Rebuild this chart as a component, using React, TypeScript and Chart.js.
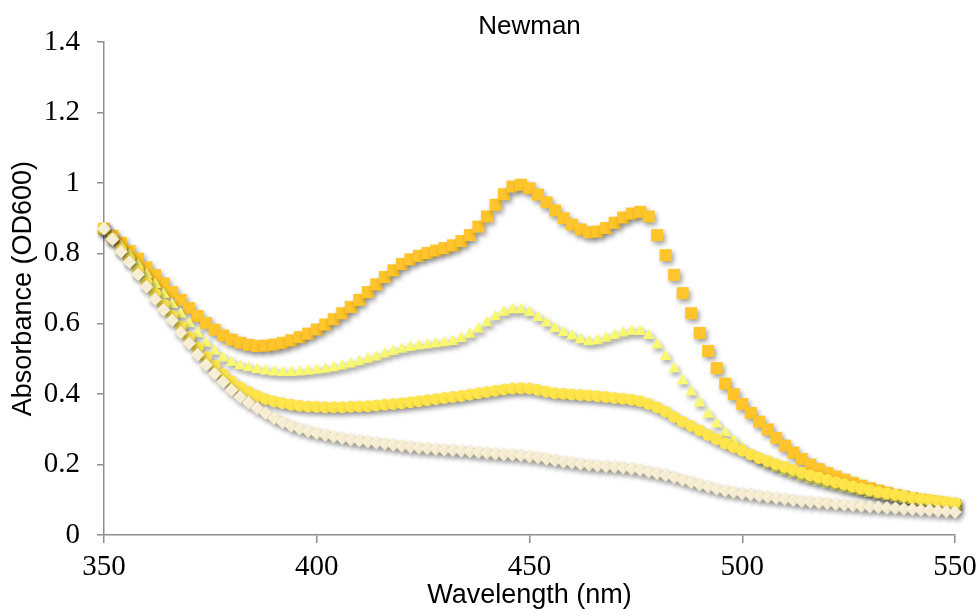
import React, { useEffect, useRef } from "react";
import { Chart, registerables } from "chart.js";

Chart.register(...registerables);

// Wavelength (nm), every 2 nm
const wavelengths = [
  350, 352, 354, 356, 358, 360, 362, 364, 366, 368,
  370, 372, 374, 376, 378, 380, 382, 384, 386, 388,
  390, 392, 394, 396, 398, 400, 402, 404, 406, 408,
  410, 412, 414, 416, 418, 420, 422, 424, 426, 428,
  430, 432, 434, 436, 438, 440, 442, 444, 446, 448,
  450, 452, 454, 456, 458, 460, 462, 464, 466, 468,
  470, 472, 474, 476, 478, 480, 482, 484, 486, 488,
  490, 492, 494, 496, 498, 500, 502, 504, 506, 508,
  510, 512, 514, 516, 518, 520, 522, 524, 526, 528,
  530, 532, 534, 536, 538, 540, 542, 544, 546, 548,
  550,
];

// Orange squares
const seriesSquares = [
  0.870, 0.850, 0.830, 0.807, 0.785, 0.760, 0.738, 0.715, 0.690, 0.668,
  0.645, 0.622, 0.602, 0.583, 0.567, 0.555, 0.546, 0.540, 0.537, 0.538,
  0.541, 0.546, 0.553, 0.562, 0.572, 0.584, 0.598, 0.613, 0.630, 0.648,
  0.668, 0.690, 0.712, 0.733, 0.752, 0.770, 0.783, 0.793, 0.801, 0.808,
  0.815, 0.823, 0.835, 0.852, 0.876, 0.905, 0.938, 0.968, 0.990, 0.995,
  0.985, 0.967, 0.945, 0.922, 0.900, 0.882, 0.868, 0.860, 0.862, 0.872,
  0.887, 0.902, 0.913, 0.918, 0.905, 0.852, 0.795, 0.739, 0.687, 0.630,
  0.574, 0.523, 0.474, 0.430, 0.400, 0.372, 0.347, 0.322, 0.300, 0.276,
  0.254, 0.234, 0.216, 0.200, 0.187, 0.176, 0.166, 0.157, 0.148, 0.140,
  0.133, 0.126, 0.120, 0.114, 0.109, 0.104, 0.100, 0.096, 0.092, 0.088,
  0.085,
];

// Light yellow triangles
const seriesTriangles = [
  0.870, 0.845, 0.820, 0.795, 0.768, 0.740, 0.712, 0.683, 0.655, 0.627,
  0.600, 0.572, 0.545, 0.522, 0.503, 0.490, 0.481, 0.475, 0.470, 0.466,
  0.463, 0.462, 0.462, 0.463, 0.465, 0.468, 0.471, 0.475, 0.480, 0.486,
  0.492, 0.499, 0.506, 0.514, 0.521, 0.528, 0.533, 0.537, 0.540, 0.543,
  0.546, 0.550, 0.558, 0.570, 0.585, 0.603, 0.620, 0.633, 0.640, 0.640,
  0.632, 0.618, 0.602, 0.587, 0.575, 0.565, 0.555, 0.549, 0.552, 0.559,
  0.567, 0.574, 0.579, 0.578, 0.567, 0.540, 0.507, 0.472, 0.438, 0.406,
  0.375, 0.343, 0.315, 0.290, 0.268, 0.248, 0.228, 0.213, 0.200, 0.190,
  0.181, 0.173, 0.165, 0.158, 0.151, 0.145, 0.139, 0.133, 0.128, 0.123,
  0.118, 0.113, 0.109, 0.105, 0.101, 0.098, 0.095, 0.092, 0.089, 0.086,
  0.084,
];

// Yellow circles
const seriesCircles = [
  0.870, 0.842, 0.812, 0.782, 0.750, 0.718, 0.686, 0.655, 0.623, 0.592,
  0.562, 0.532, 0.505, 0.480, 0.457, 0.437, 0.420, 0.406, 0.395, 0.386,
  0.379, 0.374, 0.370, 0.367, 0.365, 0.364, 0.363, 0.363, 0.363, 0.364,
  0.365, 0.366, 0.368, 0.370, 0.372, 0.374, 0.377, 0.380, 0.383, 0.386,
  0.389, 0.392, 0.395, 0.399, 0.403, 0.406, 0.410, 0.413, 0.416, 0.417,
  0.416, 0.412, 0.407, 0.403, 0.401, 0.399, 0.398, 0.396, 0.394, 0.392,
  0.389, 0.387, 0.384, 0.380, 0.372, 0.362, 0.350, 0.335, 0.322, 0.310,
  0.297, 0.284, 0.272, 0.260, 0.249, 0.239, 0.229, 0.219, 0.210, 0.201,
  0.193, 0.185, 0.177, 0.170, 0.163, 0.156, 0.150, 0.144, 0.138, 0.132,
  0.127, 0.122, 0.118, 0.114, 0.110, 0.106, 0.103, 0.100, 0.097, 0.094,
  0.091,
];

// Cream diamonds
const seriesDiamonds = [
  0.870, 0.840, 0.805, 0.775, 0.740, 0.705, 0.670, 0.640, 0.610, 0.575,
  0.545, 0.512, 0.483, 0.458, 0.435, 0.412, 0.392, 0.376, 0.360, 0.346,
  0.332, 0.320, 0.310, 0.302, 0.295, 0.289, 0.284, 0.279, 0.275, 0.271,
  0.268, 0.265, 0.262, 0.259, 0.256, 0.253, 0.250, 0.248, 0.246, 0.244,
  0.242, 0.241, 0.239, 0.237, 0.235, 0.233, 0.231, 0.229, 0.228, 0.226,
  0.223, 0.220, 0.216, 0.212, 0.208, 0.205, 0.202, 0.199, 0.197, 0.195,
  0.193, 0.191, 0.188, 0.185, 0.180, 0.175, 0.170, 0.164, 0.157, 0.150,
  0.143, 0.137, 0.131, 0.126, 0.122, 0.118, 0.115, 0.111, 0.108, 0.105,
  0.102, 0.099, 0.096, 0.094, 0.092, 0.090, 0.088, 0.086, 0.084, 0.082,
  0.080, 0.079, 0.077, 0.076, 0.074, 0.073, 0.071, 0.070, 0.068, 0.067,
  0.065,
];

const chartTitle = "Newman";
const xTitle = "Wavelength (nm)";
const yTitle = "Absorbance (OD600)";

const toPoints = (ys: number[]) => wavelengths.map((x, i) => ({ x, y: ys[i] }));

const shadowPlugin = {
  id: "markerShadow",
  beforeDatasetsDraw(chart: any) {
    const ctx = chart.ctx;
    ctx.save();
    ctx.shadowColor = "rgba(0,0,0,0.38)";
    ctx.shadowBlur = 5;
    ctx.shadowOffsetX = 2;
    ctx.shadowOffsetY = 3;
  },
  afterDatasetsDraw(chart: any) {
    chart.ctx.restore();
  },
};

const axisColor = "#8e8e8e";
const sans = "'Liberation Sans', Arial, sans-serif";
const serif = "'Liberation Serif', 'Times New Roman', serif";

export default function App() {
  const canvasRef = useRef<HTMLCanvasElement | null>(null);

  useEffect(() => {
    document.body.style.margin = "0";
    const canvas = canvasRef.current;
    if (!canvas) return;
    const chart = new Chart(canvas, {
      type: "scatter",
      data: {
        datasets: [
          {
            label: "D",
            data: toPoints(seriesDiamonds),
            pointStyle: "rectRot",
            pointRadius: 6.5,
            backgroundColor: "#FFF6DC",
            borderColor: "#F2E6BE",
            borderWidth: 0.8,
            showLine: false,
            clip: false,
          },
          {
            label: "C",
            data: toPoints(seriesCircles),
            pointStyle: "circle",
            pointRadius: 6,
            backgroundColor: "#FFE54A",
            borderColor: "#FFE54A",
            borderWidth: 0,
            showLine: false,
            clip: false,
          },
          {
            label: "B",
            data: toPoints(seriesTriangles),
            pointStyle: "triangle",
            pointRadius: 7,
            backgroundColor: "#F9F872",
            borderColor: "#F9F872",
            borderWidth: 0,
            showLine: false,
            clip: false,
          },
          {
            label: "A",
            data: toPoints(seriesSquares),
            pointStyle: "rect",
            pointRadius: 8.5,
            backgroundColor: "#FFC52A",
            borderColor: "#FFC52A",
            borderWidth: 0,
            showLine: false,
            clip: false,
          },
        ],
      },
      options: {
        responsive: false,
        animation: false,
        events: [],
        layout: { padding: { left: 0, right: 23, top: 0, bottom: 0 } },
        plugins: {
          legend: { display: false },
          tooltip: { enabled: false },
          title: {
            display: true,
            text: chartTitle,
            fullSize: false,
            color: "#000",
            font: { family: sans, size: 26, weight: "normal" },
            padding: { top: 11, bottom: 0 },
          },
        },
        scales: {
          x: {
            type: "linear",
            min: 350,
            max: 550,
            afterFit: (s: any) => {
              s.height = 77;
              s.paddingLeft = 0;
              s.paddingRight = 0;
            },
            ticks: {
              stepSize: 50,
              color: "#000",
              padding: 7,
              font: { family: serif, size: 29 },
            },
            grid: {
              display: true,
              drawOnChartArea: false,
              drawTicks: true,
              tickLength: 8,
              color: axisColor,
              lineWidth: 1.5,
            },
            border: { display: true, color: axisColor, width: 1.5 },
            title: {
              display: true,
              text: xTitle,
              color: "#000",
              font: { family: sans, size: 27 },
              padding: { top: 0, bottom: 0 },
            },
          },
          y: {
            type: "linear",
            min: 0,
            max: 1.4,
            afterFit: (s: any) => {
              s.width = 104;
              s.paddingTop = 0;
              s.paddingBottom = 0;
            },
            ticks: {
              stepSize: 0.2,
              color: "#000",
              padding: 17,
              font: { family: serif, size: 29 },
              callback: (v: any) => String(Math.round(Number(v) * 10) / 10),
            },
            grid: {
              display: true,
              drawOnChartArea: false,
              drawTicks: true,
              tickLength: 7,
              color: axisColor,
              lineWidth: 1.5,
            },
            border: { display: true, color: axisColor, width: 1.5 },
            title: {
              display: true,
              text: yTitle,
              color: "#000",
              font: { family: sans, size: 27 },
              padding: { top: 7, bottom: 0 },
            },
          },
        },
      },
      plugins: [shadowPlugin],
    });
    return () => chart.destroy();
  }, []);

  return (
    <div style={{ width: 978, height: 612, background: "#fff" }}>
      <canvas ref={canvasRef} width={978} height={612} style={{ display: "block" }} />
    </div>
  );
}
